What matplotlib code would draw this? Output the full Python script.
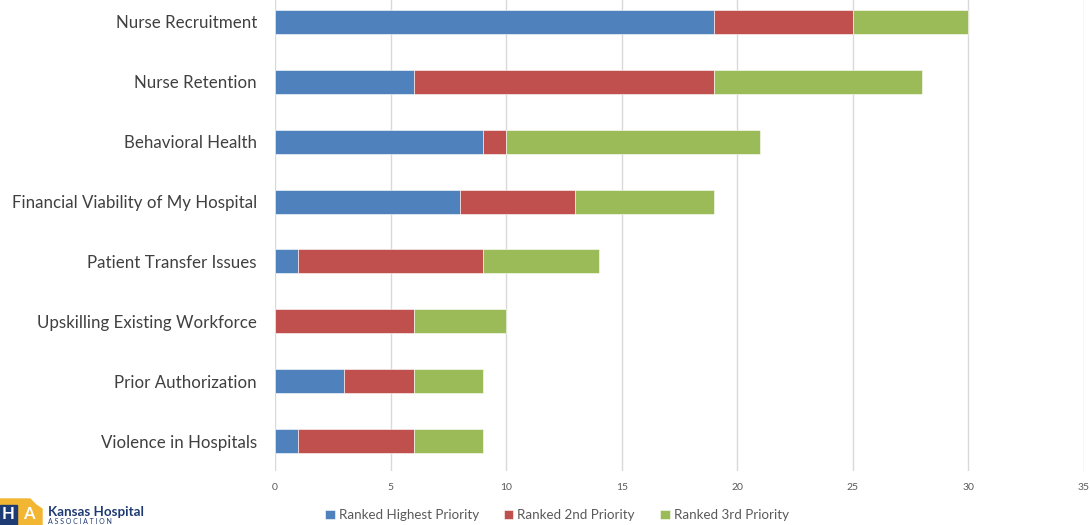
import matplotlib
matplotlib.use("Agg")
import matplotlib.pyplot as plt
from matplotlib.patches import Rectangle, Polygon

categories = ["Nurse Recruitment", "Nurse Retention", "Behavioral Health",
              "Financial Viability of My Hospital", "Patient Transfer Issues",
              "Upskilling Existing Workforce", "Prior Authorization",
              "Violence in Hospitals"]
highest = [19, 6, 9, 8, 1, 0, 3, 1]
second = [6, 13, 1, 5, 8, 6, 3, 5]
third = [5, 9, 11, 6, 5, 4, 3, 3]
series_names = ["Ranked Highest Priority", "Ranked 2nd Priority", "Ranked 3rd Priority"]
colors = ["#4F81BD", "#C0504D", "#9BBB59"]
xticks = [0, 5, 10, 15, 20, 25, 30, 35]

plt.rcParams['font.family'] = ['Lato', 'DejaVu Sans']

fig = plt.figure(figsize=(10.9, 5.25), dpi=100)
ax = fig.add_axes([275/1090, 54/525, (1084-275)/1090, 471/525])

ypos = list(range(len(categories)))
left = [0]*len(categories)
for vals, name, c in zip([highest, second, third], series_names, colors):
    ax.barh(ypos, vals, left=left, height=0.4, color=c, label=name, zorder=3,
            edgecolor='white', linewidth=0.4)
    left = [l + v for l, v in zip(left, vals)]

ax.set_xlim(0, 35)
ax.set_ylim(7.5, -0.367)
ax.set_xticks(xticks)
ax.set_xticklabels([str(t) for t in xticks], fontsize=7.5, color='#595959')
ax.set_yticks(ypos)
ax.set_yticklabels(categories, fontsize=12.15, color='#404040')
ax.tick_params(axis='both', length=0)
ax.tick_params(axis='x', pad=9)
ax.tick_params(axis='y', pad=13)
ax.grid(axis='x', color='#D9D9D9', linewidth=1, zorder=0)
for s in ax.spines.values():
    s.set_visible(False)

leg = fig.legend(loc='center', bbox_to_anchor=(557/1090, 1-515/525), ncol=3,
                 frameon=False, fontsize=9.6, handlelength=0.7, handleheight=0.7,
                 columnspacing=1.9, handletextpad=0.3, labelcolor='#595959')

# Logo
fig.patches.append(Polygon([(0/1090, 1-499/525), (30/1090, 1-499/525), (36/1090, 1-505/525),
                            (42/1090, 1-509/525), (42/1090, 0), (0, 0)],
                           closed=True, transform=fig.transFigure, color='#F2B632', zorder=1))
fig.patches.append(Rectangle((0, 0), 17/1090, 20/525, transform=fig.transFigure,
                             color='#1F3B73', zorder=2))
fig.text(8/1090, 3/525, "H", fontsize=12, fontweight='bold', color='white', ha='center', va='bottom', zorder=3)
fig.text(29/1090, 3/525, "A", fontsize=12, fontweight='bold', color='white', ha='center', va='bottom', zorder=3)
fig.text(48/1090, 1-512/525, "Kansas Hospital", fontsize=9.6, fontweight='bold', color='#1F3B73', va='center')
fig.text(48/1090, 1-521.5/525, "A S S O C I A T I O N", fontsize=5, color='#1F3B73', va='center')

fig.savefig("out.png", dpi=100)
